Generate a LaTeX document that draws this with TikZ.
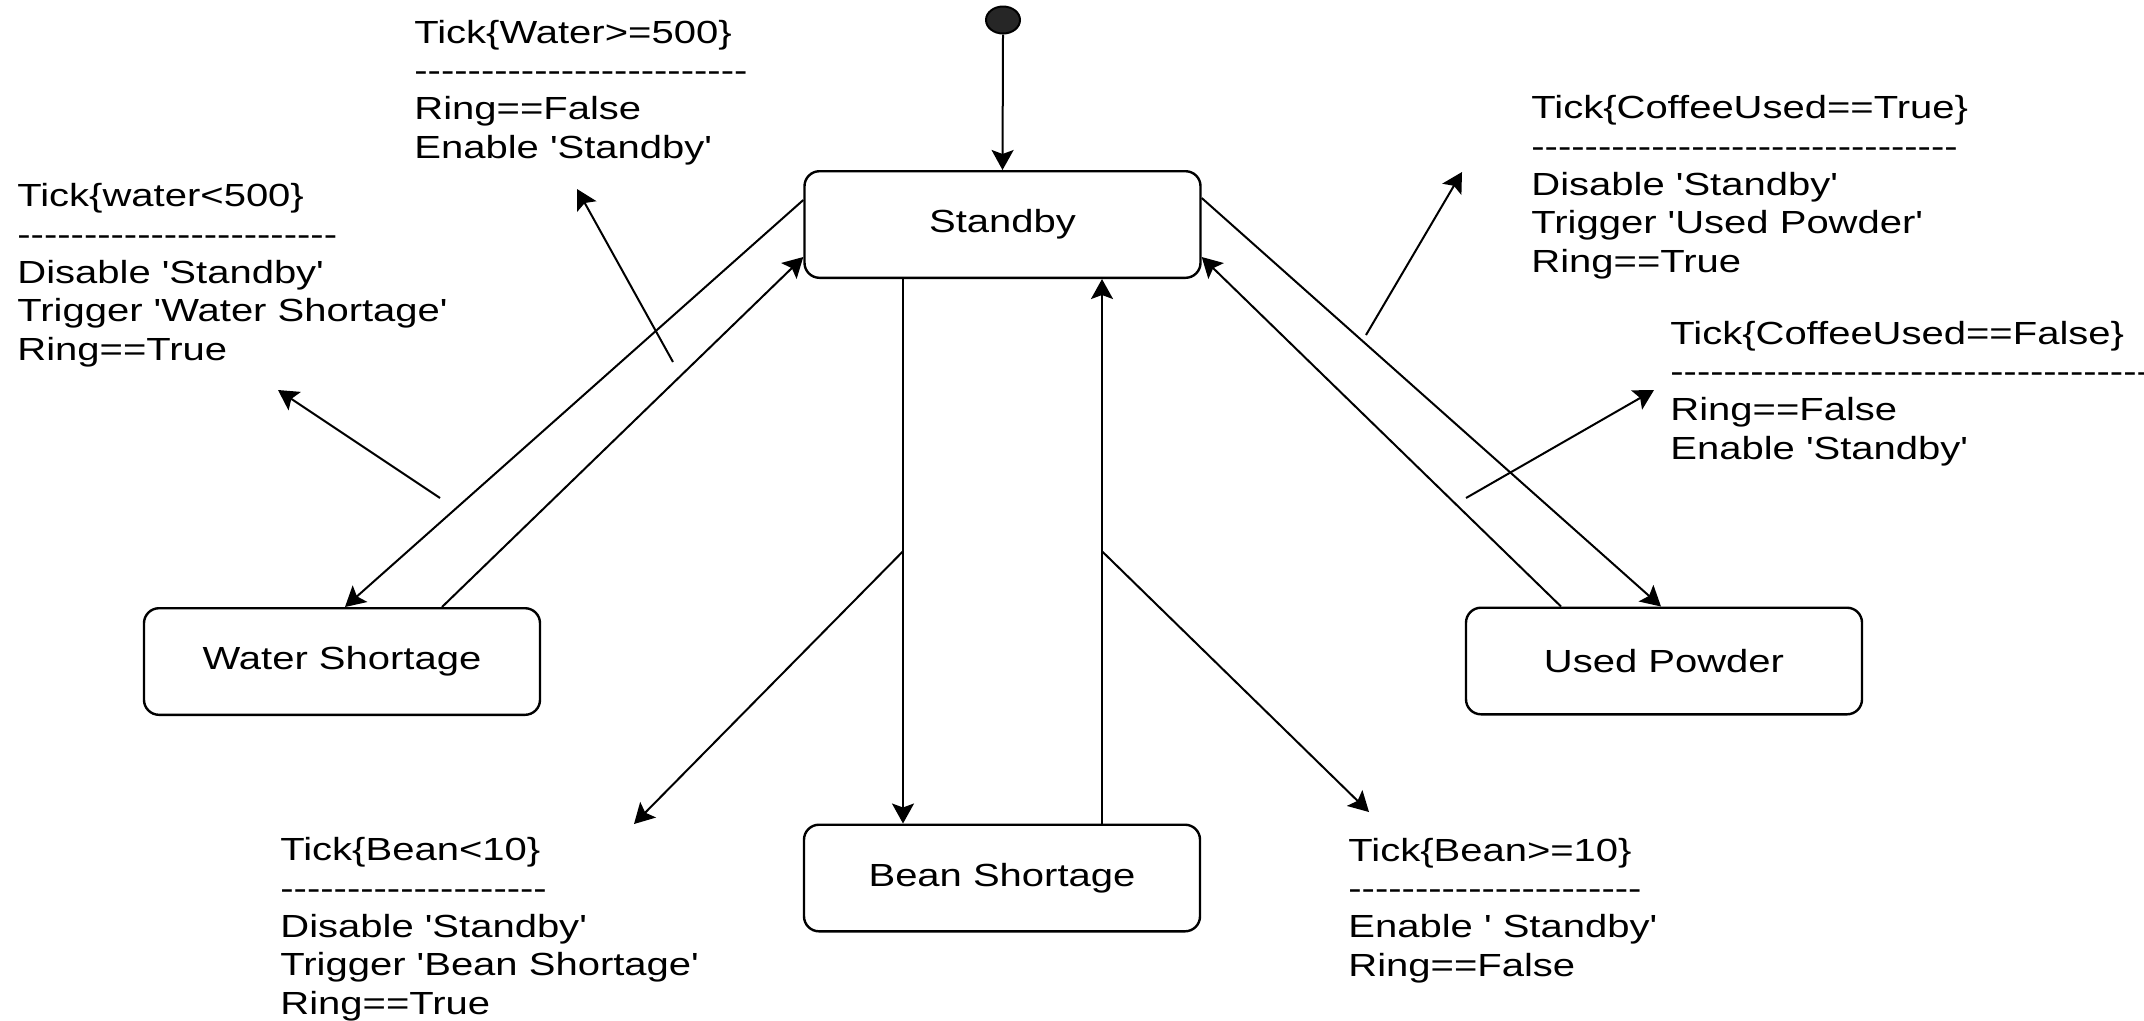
\documentclass[tikz,border=0pt]{standalone}
\usepackage{fontspec}
\setmainfont{Liberation Sans}[FakeStretch=1.25]
\newfontfamily\lblfont{Liberation Sans}[FakeStretch=1.25]
\usetikzlibrary{arrows.meta,calc,shapes.geometric}
\begin{document}
\begin{tikzpicture}[x=0.5bp,y=-0.5bp,
  txt/.style={font=\lblfont\fontsize{16bp}{19.15bp}\selectfont},
  state/.style={txt,draw,line width=1.2bp,rounded corners=7.5bp,minimum width=198bp,minimum height=53.3bp,inner sep=0pt},
  conn/.style={line width=1bp,-{Stealth[length=10bp,width=11bp,inset=2bp]}},
  lbl/.style={txt,anchor=base west,align=left,inner sep=0pt}]
\useasboundingbox (0,0) rectangle (2144,1020);
\clip (0,0) rectangle (2144,1020);
\fill[white] (0,0) rectangle (2144,1020);
% states
\node[state] (std) at (1002.5,224.5) {Standby};
\node[state] (ws) at (342,661.5) {Water Shortage};
\node[state] (up) at (1664,661) {Used Powder};
\node[state] (bs) at (1002,878) {Bean Shortage};
\node[ellipse,draw,line width=1bp,fill=black!85,minimum width=17bp,minimum height=13.5bp,inner sep=0pt] (init) at (1003,20) {};
% transitions
\draw[conn] (init.south) -- (std.north);
\draw[conn] ($(std.west)+(0,-24.5)$) -- ($(ws.north)+(3,0)$);
\draw[conn] ($(ws.north)+(100,0)$) -- ($(std.west)+(0,32.5)$);
\draw[conn] ($(std.south)+(-99.5,0)$) -- coordinate[pos=0.5] (bl) ($(bs.north)+(-99,0)$);
\draw[conn] ($(bs.north)+(100,0)$) -- coordinate[pos=0.5] (br) ($(std.south)+(99.5,0)$);
\draw[conn] ($(std.east)+(0,-26.5)$) -- ($(up.north)+(-3,0)$);
\draw[conn] ($(up.north)+(-103,0)$) -- ($(std.east)+(0,32.5)$);
% label pointers
\coordinate (a1s) at (673,362); \coordinate (a1e) at (577,189);
\coordinate (a2s) at (440,498); \coordinate (a2e) at (278,390);
\coordinate (a3s) at (1366,335); \coordinate (a3e) at (1462,172);
\coordinate (a4s) at (1466,498); \coordinate (a4e) at (1654,390);
\coordinate (a5e) at (634,824);
\coordinate (a6e) at (1369,812);
\draw[conn] (a1s) -- (a1e);
\draw[conn] (a2s) -- (a2e);
\draw[conn] (a3s) -- (a3e);
\draw[conn] (a4s) -- (a4e);
\draw[conn] (bl) -- (a5e);
\draw[conn] (br) -- (a6e);
% labels (anchored at the baseline of their last line)
\node[lbl] (l1) at (414,158) {Tick\{Water>=500\}\\-------------------------\\Ring==False\\Enable 'Standby'};
\node[lbl] (l2) at (17,360) {Tick\{water<500\}\\------------------------\\Disable 'Standby'\\Trigger 'Water Shortage'\\Ring==True};
\node[lbl] (l3) at (1531,272) {Tick\{CoffeeUsed==True\}\\--------------------------------\\Disable 'Standby'\\Trigger 'Used Powder'\\Ring==True};
\node[lbl] (l4) at (1670,459) {Tick\{CoffeeUsed==False\}\\----------------------------------------\\Ring==False\\Enable 'Standby'};
\node[lbl] (l5) at (280,1014) {Tick\{Bean<10\}\\--------------------\\Disable 'Standby'\\Trigger 'Bean Shortage'\\Ring==True};
\node[lbl] (l6) at (1348,976) {Tick\{Bean>=10\}\\----------------------\\Enable ' Standby'\\Ring==False};
\end{tikzpicture}
\end{document}
